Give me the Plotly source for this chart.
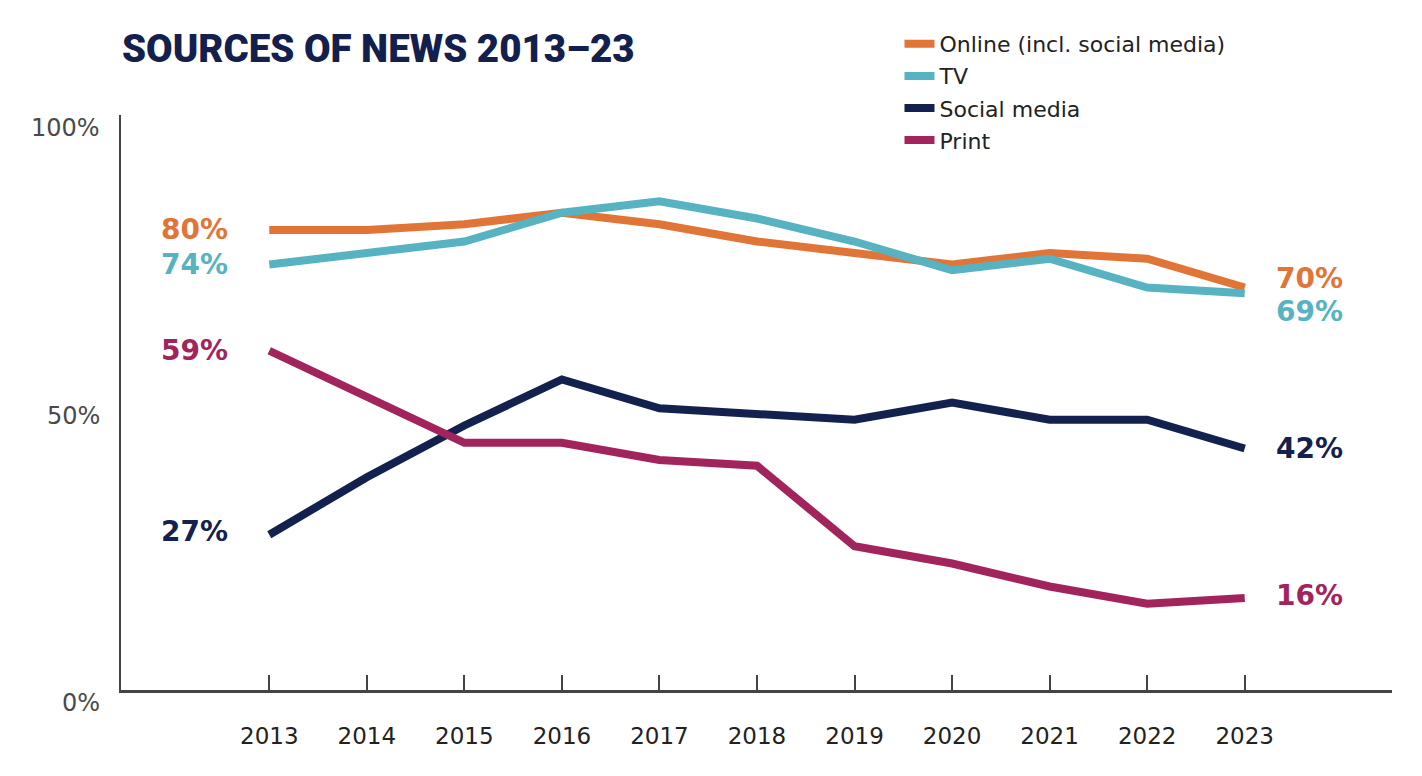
import plotly.graph_objects as go

years = [2013, 2014, 2015, 2016, 2017, 2018, 2019, 2020, 2021, 2022, 2023]
online = [80, 80, 81, 83, 81, 78, 76, 74, 76, 75, 70]
tv = [74, 76, 78, 83, 85, 82, 78, 73, 75, 70, 69]
social = [27, 37, 46, 54, 49, 48, 47, 50, 47, 47, 42]
printed = [59, 51, 43, 43, 40, 39, 25, 22, 18, 15, 16]

names = ["Online (incl. social media)", "TV", "Social media", "Print"]
series = [online, tv, social, printed]
colors = ["#E07537", "#57B3C1", "#13214F", "#A2245D"]
ytick_vals = [0, 50, 100]
ytick_text = ["0%", "50%", "100%"]
title_text = "SOURCES OF NEWS 2013–23"

fig = go.Figure()
for i, (n, s, c) in enumerate(zip(names, series, colors)):
    fig.add_trace(go.Scatter(x=years, y=s, name=n, mode="lines", legendgroup=f"g{i}",
                             line=dict(color=c, width=8), hoverinfo="skip"))

label_font = "DejaVu Sans"
start_shift = [1, 0, 3, 0]
end_shift = [9, -18, 0, 3]
for i, (s, c) in enumerate(zip(series, colors)):
    fig.add_annotation(x=years[0], y=s[0], text=f"<b>{s[0]}%</b>", showarrow=False,
                       xanchor="right", xshift=-40, yshift=start_shift[i], borderpad=0,
                       font=dict(family=label_font, size=28, color=c))
    fig.add_annotation(x=years[-1], y=s[-1], text=f"<b>{s[-1]}%</b>", showarrow=False,
                       xanchor="left", xshift=30, yshift=end_shift[i], borderpad=0,
                       font=dict(family=label_font, size=28, color=c))

for v, t in zip(ytick_vals, ytick_text):
    fig.add_annotation(xref="paper", x=0, y=v, text=t, showarrow=False,
                       xanchor="right", xshift=-19, yshift=-13,
                       font=dict(family="DejaVu Sans", size=24, color="#4a4a4a"))

fig.add_annotation(xref="paper", yref="paper", x=0, y=1, xshift=-1, yshift=42,
                   xanchor="left", yanchor="bottom", text=title_text,
                   showarrow=False,
                   font=dict(family="Roboto", size=38.5, color="#13204E", weight=900))

fig.update_layout(
    width=1414, height=768,
    margin=dict(l=113, r=30, t=107, b=86, autoexpand=False),
    plot_bgcolor="white", paper_bgcolor="white",
    showlegend=True,
    legend=dict(x=0.6125, y=1.16, xanchor="left", yanchor="top",
                font=dict(family="DejaVu Sans", size=22, color="#222222"),
                bgcolor="rgba(0,0,0,0)", tracegroupgap=0.5, itemwidth=30),
    xaxis=dict(range=[2011.48, 2024.51], tickvals=years, ticks="inside",
               ticklen=15, tickwidth=1.5, tickcolor="#444444",
               showline=True, linecolor="#444444", linewidth=2.5,
               showgrid=False, zeroline=False, ticklabelstandoff=24,
               tickfont=dict(family="DejaVu Sans", size=23, color="#222222")),
    yaxis=dict(range=[0, 100], showticklabels=False, ticks="",
               showline=True, linecolor="#444444", linewidth=2,
               showgrid=False, zeroline=False),
)
fig.write_html("out.html")
